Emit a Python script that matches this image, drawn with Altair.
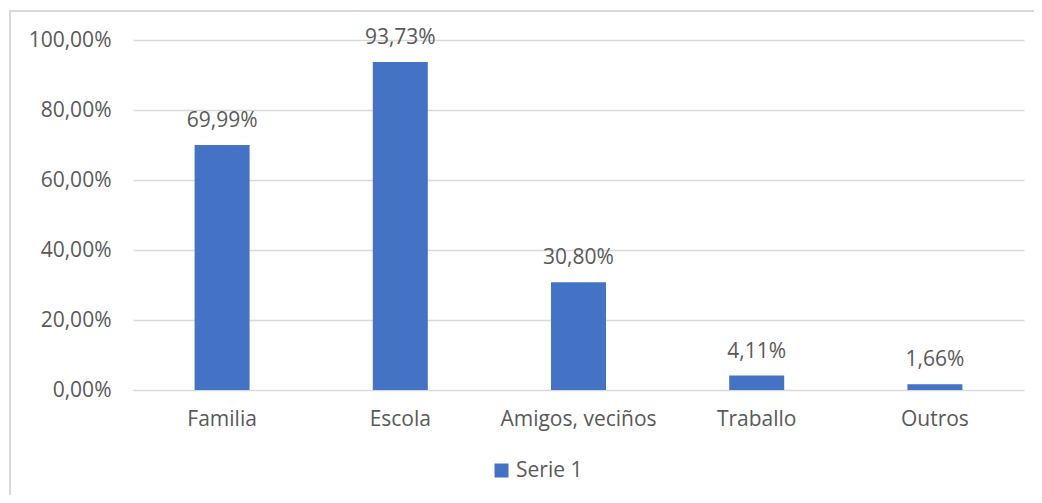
import altair as alt
import pandas as pd

categories = ["Familia", "Escola", "Amigos, veciños", "Traballo", "Outros"]
values = [0.6999, 0.9373, 0.3080, 0.0411, 0.0166]
series = ["Serie 1"] * len(categories)

df = pd.DataFrame({"cat": categories, "val": values, "serie": series})
df["label"] = [f"{v*100:.2f}%".replace(".", ",") for v in values]

FONT = "Open Sans"
GREY = "#595959"

x = alt.X("cat:N", sort=categories, title=None,
          scale=alt.Scale(paddingInner=0.69, paddingOuter=0.345),
          axis=alt.Axis(labelAngle=0, labelFontSize=21, labelColor=GREY, labelFont=FONT,
                        ticks=False, domain=True, domainColor="#d9d9d9", labelPadding=18))
y = alt.Y("val:Q", title=None, scale=alt.Scale(domain=[0, 1]),
          axis=alt.Axis(values=[0, 0.2, 0.4, 0.6, 0.8, 1.0],
                        labelExpr="replace(format(datum.value, '.2%'), '.', ',')",
                        labelFontSize=21, labelColor=GREY, labelFont=FONT, ticks=False,
                        domain=False, gridColor="#d9d9d9", gridWidth=1.5, labelPadding=22))

border = alt.Chart(df).mark_rect(fill=None, stroke="#d9d9d9", strokeWidth=1.5).encode(
    x=alt.value(-123), x2=alt.value(1100), y=alt.value(-29), y2=alt.value(600)
)

bars = alt.Chart(df).mark_bar(size=55).encode(
    x=x, y=y,
    color=alt.Color("serie:N", scale=alt.Scale(range=["#4472C4"]),
                    legend=alt.Legend(title=None, orient="none", legendX=358, legendY=420,
                                      symbolType="square", symbolSize=196, symbolStrokeWidth=0,
                                      labelFontSize=21, labelColor=GREY, labelFont=FONT,
                                      padding=0, labelOffset=4)),
)

labels = alt.Chart(df).mark_text(baseline="bottom", dy=-14, fontSize=21, color=GREY, font=FONT).encode(
    x=alt.X("cat:N", sort=categories), y="val:Q", text="label:N"
)

chart = alt.layer(border, bars, labels).properties(
    width=891, height=350,
    autosize=alt.AutoSizeParams(type="none"),
    padding={"left": 125, "top": 32, "right": 10, "bottom": 105},
).configure_view(stroke=None)

chart.save("out.html", embed_options={"renderer": "svg", "actions": False})
